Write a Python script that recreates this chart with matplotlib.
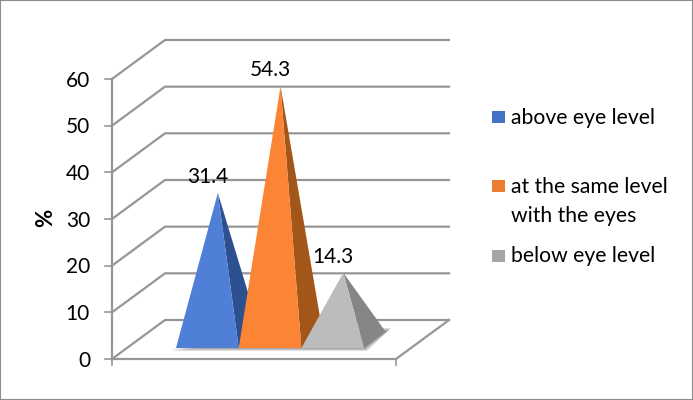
'''
Piramides 3D falsas: porcentaje segun la altura respecto a los ojos.
'''
import matplotlib
matplotlib.use('Agg')
import matplotlib.pyplot as plt
from matplotlib.patches import Polygon, Rectangle

categorias = ['above eye level', 'at the same level\nwith the eyes', 'below eye level']
valores = [31.4, 54.3, 14.3]
etiquetas = ['31.4', '54.3', '14.3']
yticks = [0, 10, 20, 30, 40, 50, 60]

col_frente = ['#4f7fd6', '#fb8435', '#bcbcbc']
col_lado = ['#2d5190', '#a35619', '#858585']
col_leyenda = ['#4472c4', '#ed7d31', '#a5a5a5']
col_linea = '#969696'

plt.rcParams['font.family'] = ['Lato', 'DejaVu Sans']

W, H = 693, 400
PXX = 62.7   # pixeles por categoria
PXY = 4.667  # pixeles por unidad de %
X0, Y0 = 176, 359

fig = plt.figure(figsize=(W/100, H/100), dpi=100)
ax = fig.add_axes([0, 0, 1, 1])
ax.set_xlim(-X0/PXX, (W-X0)/PXX)
ax.set_ylim((Y0-H)/PXY, Y0/PXY)
ax.axis('off')

# profundidad de piso y de la base de las piramides, en unidades de datos
fx, fy = 53/PXX, 39/PXY
bx, by = 21/PXX, 17/PXY
base_x0, base_y0 = 0.0, 11/PXY
izq, der = (112-X0)/PXX, (396-X0)/PXX

# muros y grilla
for v in yticks:
    ax.plot([izq-7/PXX, izq], [v, v], color=col_linea, lw=1.2, zorder=1)
    ax.plot([izq, izq+fx, der+fx], [v, v+fy, v+fy], color=col_linea, lw=1.6, zorder=1)
    ax.text(izq-22/PXX, v-0.35, str(v), ha='right', va='center', fontsize=15, color='black')
ax.plot([izq, izq], [0, yticks[-1]], color=col_linea, lw=1.6, zorder=1)
ax.plot([izq, der, der+fx], [0, 0, fy], color=col_linea, lw=1.6, zorder=1)
ax.plot([izq, izq], [0, -6/PXY], color=col_linea, lw=1.2, zorder=1)
ax.plot([der, der], [0, -6/PXY], color=col_linea, lw=1.2, zorder=1)

# sombra sobre el piso
n = len(valores)
for k in range(4):
    d = (3-k)*1.0
    ax.add_patch(Polygon([(base_x0-(d+3)/PXX, base_y0-d/PXY),
                          (base_x0+n+d/PXX, base_y0-d/PXY),
                          (base_x0+n+bx+(d+3)/PXX, base_y0+by+d/PXY),
                          (base_x0+n+bx-4/PXX, base_y0+by+d/PXY)],
                         fc='black', ec='none', alpha=0.13, zorder=2))

# piramides: cara frontal y cara lateral
for i, v in enumerate(valores):
    xi, xd = base_x0+i, base_x0+i+1
    yb = base_y0
    apice = (xi+0.5+bx/2, yb+by/2+v)
    ax.add_patch(Polygon([(xd, yb), (xd+bx, yb+by), apice], fc=col_lado[i], ec='none', zorder=3+i))
    ax.add_patch(Polygon([(xi, yb), (xd, yb), apice], fc=col_frente[i], ec='none', zorder=3+i))
    ax.text(xi+0.5, apice[1]+3.4, etiquetas[i], ha='center', va='center',
            fontsize=15, color='black', zorder=10)

fig.text(46/W, 1-218/H, '%', rotation=90, ha='center', va='center', fontsize=16, fontweight='bold')

# leyenda a mano, con espaciado desigual como el original
filas = [117, 186, 255.5]
for lab, col, fila in zip(categorias, col_leyenda, filas):
    fig.patches.append(Rectangle((492/W, 1-(fila+6)/H), 13/W, 12/H, transform=fig.transFigure,
                                 fc=col, ec='none'))
    fig.text(511/W, 1-(fila-9)/H, lab, ha='left', va='top', fontsize=15.2, linespacing=1.55)

# marco
fig.patches.append(Rectangle((0, 0), 1, 1, transform=fig.transFigure, fc='none', ec='#8c8c8c', lw=1.5))
plt.savefig('out.png', dpi=100)
